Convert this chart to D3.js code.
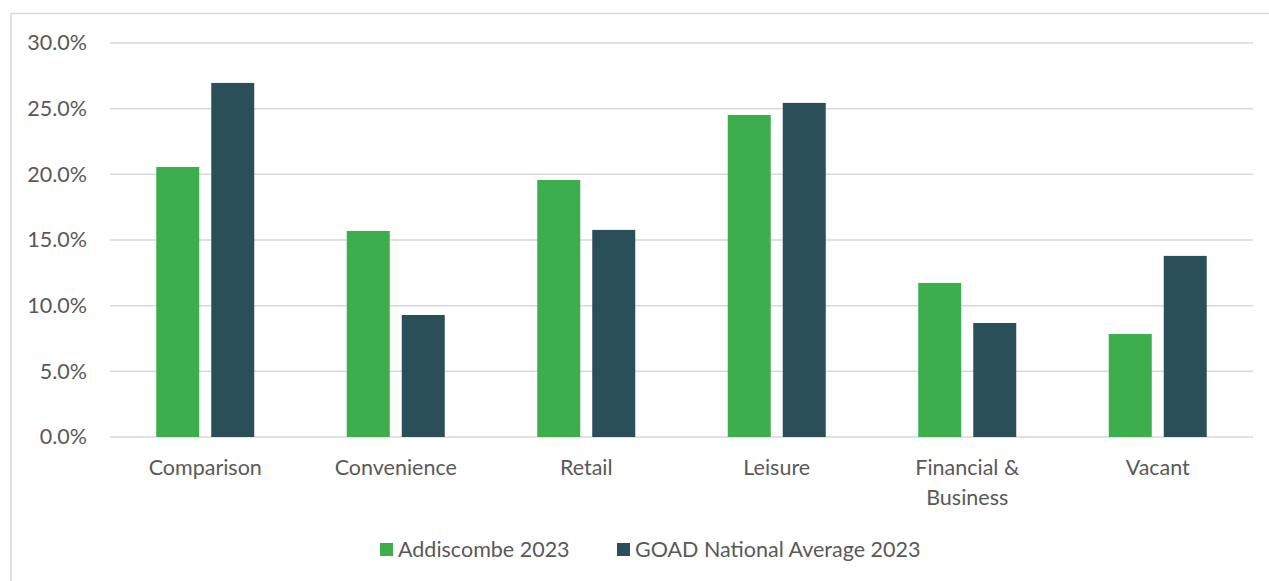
<!DOCTYPE html>
<html>
<head>
<meta charset="utf-8">
<script src="https://cdn.jsdelivr.net/npm/d3@7"></script>
<style>
  body { margin: 0; background: #fff; }
  svg { display: block; font-family: Lato, "Open Sans", sans-serif; }
</style>
</head>
<body>
<svg id="chart" width="1269" height="581"></svg>
<script>
const categories = ["Comparison", "Convenience", "Retail", "Leisure", "Financial & Business", "Vacant"];
const categoryLines = [["Comparison"], ["Convenience"], ["Retail"], ["Leisure"], ["Financial &", "Business"], ["Vacant"]];
const seriesNames = ["Addiscombe 2023", "GOAD National Average 2023"];
const addiscombe = [20.56, 15.69, 19.57, 24.52, 11.73, 7.84];
const goadAverage = [26.96, 9.29, 15.77, 25.44, 8.68, 13.79];
const yTicks = [0, 5, 10, 15, 20, 25, 30];
const colors = ["#3cae4e", "#2b4f58"];

const svg = d3.select("#chart");
const margin = { left: 110, right: 16, top: 43, bottom: 144 };
const W = 1269, H = 581;
const fontSize = 21.5;

// outer frame
svg.append("rect")
  .attr("x", 11).attr("y", 13.5)
  .attr("width", W + 10).attr("height", H + 10)
  .attr("fill", "none").attr("stroke", "#d9d9d9").attr("stroke-width", 1.5);

const x0 = d3.scaleBand().domain(categories).range([margin.left, W - margin.right]).padding(0);
const x1 = d3.scaleBand().domain(seriesNames).range([0, 98]).paddingInner(0.218).paddingOuter(0);
const y = d3.scaleLinear().domain([0, 30]).range([H - margin.bottom, margin.top]);

// gridlines
svg.append("g").selectAll("line").data(yTicks).join("line")
  .attr("x1", margin.left).attr("x2", W - margin.right)
  .attr("y1", d => y(d)).attr("y2", d => y(d))
  .attr("stroke", "#d9d9d9").attr("stroke-width", 1.5);

// y axis labels
const yAxis = d3.axisLeft(y).tickValues(yTicks).tickSize(0).tickPadding(0)
  .tickFormat(d => d.toFixed(1) + "%");
svg.append("g").attr("transform", "translate(87,0)").call(yAxis)
  .call(g => g.select(".domain").remove())
  .selectAll("text")
  .attr("font-size", fontSize).attr("fill", "#595959")
  .attr("font-family", "Lato, sans-serif");

// bars
const series = [addiscombe, goadAverage];
const groups = svg.append("g").selectAll("g").data(categories).join("g")
  .attr("transform", d => `translate(${x0(d) + x0.bandwidth() / 2 - 49},0)`);
groups.selectAll("rect").data((d, i) => seriesNames.map((s, j) => ({ s, v: series[j][i], j })))
  .join("rect")
  .attr("x", d => x1(d.s))
  .attr("width", x1.bandwidth())
  .attr("y", d => y(d.v))
  .attr("height", d => y(0) - y(d.v))
  .attr("fill", d => colors[d.j]);

// category labels
const xLabels = svg.append("g").selectAll("text").data(categories).join("text")
  .attr("x", d => x0(d) + x0.bandwidth() / 2)
  .attr("y", 475)
  .attr("text-anchor", "middle")
  .attr("font-size", fontSize).attr("fill", "#595959");
xLabels.each(function (d, i) {
  d3.select(this).selectAll("tspan").data(categoryLines[i]).join("tspan")
    .attr("x", x0(d) + x0.bandwidth() / 2)
    .attr("dy", (t, k) => k === 0 ? 0 : 30)
    .text(t => t);
});

// legend
const legendX = [380, 617];
const legend = svg.append("g").selectAll("g").data(seriesNames).join("g")
  .attr("transform", (d, i) => `translate(${legendX[i]},543)`);
legend.append("rect").attr("width", 13).attr("height", 13).attr("fill", (d, i) => colors[i]);
legend.append("text").attr("x", 18).attr("y", 14)
  .attr("font-size", fontSize).attr("fill", "#595959").text(d => d);
</script>
</body>
</html>
